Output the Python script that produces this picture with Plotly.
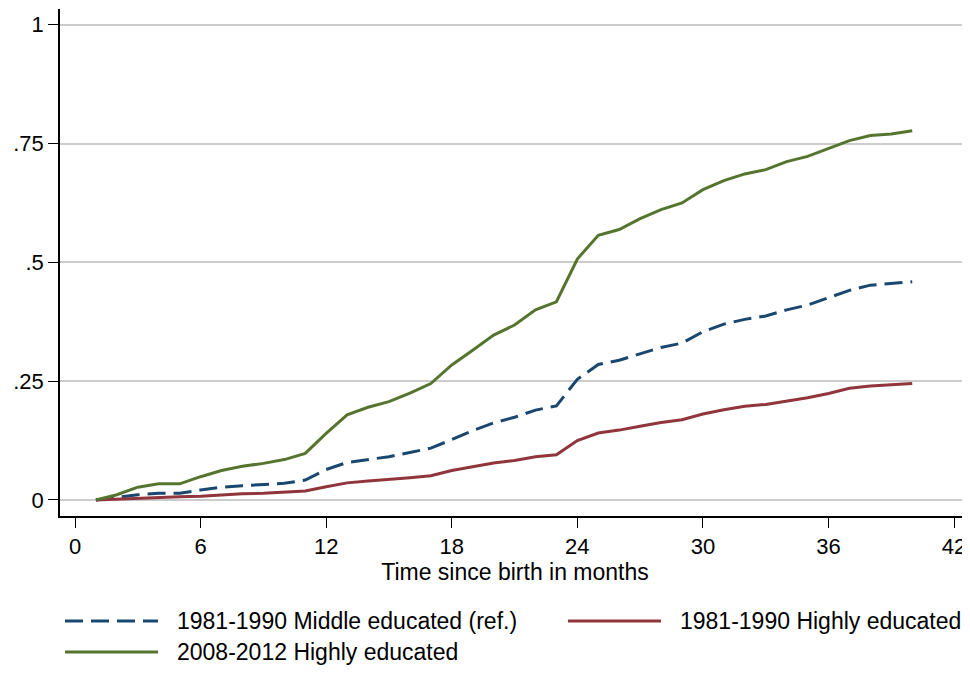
import plotly.graph_objects as go

months = list(range(1, 41))

middle_8190 = [0.000, 0.006, 0.011, 0.014, 0.014, 0.021, 0.027, 0.030, 0.033, 0.035,
               0.042, 0.064, 0.079, 0.085, 0.091, 0.100, 0.109, 0.127, 0.146, 0.162,
               0.174, 0.189, 0.198, 0.254, 0.285, 0.294, 0.308, 0.321, 0.330, 0.354,
               0.370, 0.380, 0.387, 0.400, 0.410, 0.426, 0.441, 0.452, 0.455, 0.459]
high_8190 = [0.000, 0.002, 0.004, 0.006, 0.007, 0.008, 0.011, 0.013, 0.014, 0.016,
             0.019, 0.028, 0.036, 0.040, 0.043, 0.047, 0.051, 0.062, 0.070, 0.078,
             0.083, 0.091, 0.095, 0.125, 0.141, 0.147, 0.155, 0.163, 0.169, 0.181,
             0.190, 0.197, 0.201, 0.208, 0.215, 0.224, 0.235, 0.240, 0.243, 0.245]
high_0812 = [0.000, 0.011, 0.027, 0.034, 0.034, 0.049, 0.062, 0.071, 0.077, 0.085,
             0.098, 0.140, 0.179, 0.195, 0.207, 0.225, 0.245, 0.284, 0.315, 0.347,
             0.368, 0.400, 0.417, 0.507, 0.557, 0.569, 0.592, 0.611, 0.625, 0.653,
             0.672, 0.686, 0.695, 0.712, 0.723, 0.739, 0.756, 0.767, 0.770, 0.777]

x_ticks = [0, 6, 12, 18, 24, 30, 36, 42]
y_ticks = [0, 0.25, 0.5, 0.75, 1]
y_labels = ["0", ".25", ".5", ".75", "1"]

NAVY = "#1a476f"
MAROON = "#90353b"
GREEN = "#55752f"
FONT = "Liberation Sans, Arial, sans-serif"

series = [
    ("1981-1990 Middle educated (ref.)", middle_8190, NAVY, "18px,8px"),
    ("1981-1990 Highly educated", high_8190, MAROON, "solid"),
    ("2008-2012 Highly educated", high_0812, GREEN, "solid"),
]

fig = go.Figure()
for name, vals, color, dash in series:
    fig.add_trace(go.Scatter(
        x=months, y=vals, mode="lines", name=name,
        line={"color": color, "width": 3, "dash": dash},
    ))

# Stata-style legend with long line keys, drawn by hand below the plot
legend_pos = [(0.0055, -0.2071), (0.5582, -0.2071), (0.0055, -0.2682)]
for (name, _, color, dash), (lx, ly) in zip(series, legend_pos):
    fig.add_shape(type="line", xref="paper", yref="paper",
                  x0=lx, x1=lx + 0.1022, y0=ly, y1=ly,
                  line={"color": color, "width": 3, "dash": dash})
    fig.add_annotation(xref="paper", yref="paper", x=lx + 0.121, y=ly,
                       text=name, showarrow=False, xanchor="left", yanchor="middle",
                       font={"size": 23, "color": "black", "family": FONT})

# the page body has an 8px margin; keep the figure inside the window (no scrollbars)
fig.update_layout(
    width=962, height=657,
    paper_bgcolor="white", plot_bgcolor="white",
    showlegend=False,
    margin={"l": 52, "r": 0, "t": 1, "b": 149, "autoexpand": False},
    font={"family": FONT, "size": 22, "color": "black"},
)
fig.update_xaxes(
    range=[-0.717, 42.76], tickvals=x_ticks, ticks="outside", ticklen=10,
    tickcolor="black", tickwidth=1.3, showline=True, linecolor="black", linewidth=1.5,
    showgrid=False, zeroline=False, automargin=False,
    tickfont={"size": 22, "family": FONT},
    title={"text": "Time since birth in months", "standoff": 4,
           "font": {"size": 23, "family": FONT}},
)
fig.update_yaxes(
    range=[-0.0337, 1.033], tickvals=y_ticks, ticktext=y_labels, ticks="outside",
    ticklen=10, tickcolor="black", tickwidth=1.3, showline=True, linecolor="black",
    linewidth=1.5, ticklabelstandoff=0,
    showgrid=True, gridcolor="#cccccc", gridwidth=1.5, zeroline=False, automargin=False,
    tickfont={"size": 22, "family": FONT},
)

fig.write_html("out.html")
